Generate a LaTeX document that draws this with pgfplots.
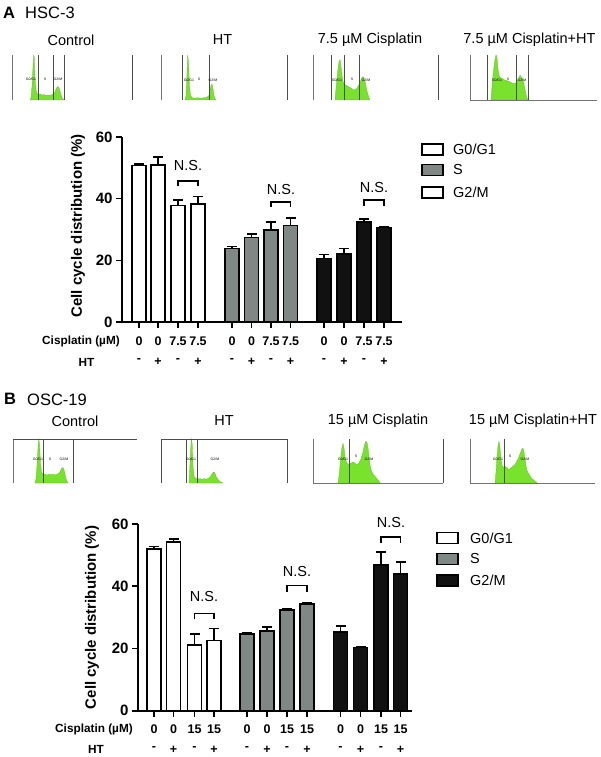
\documentclass[border=0pt]{standalone}
\usepackage{fontspec}
\setmainfont{Liberation Sans}
\usepackage{pgfplots}
\pgfplotsset{compat=1.18}
\definecolor{hgreen}{RGB}{120,226,45}
\definecolor{sgray}{RGB}{128,136,134}
\definecolor{gm}{RGB}{17,17,17}
\newcommand{\fs}[1]{\fontsize{#1}{#1}\selectfont}
\pgfplotsset{
 hist/.style={scale only axis, anchor=south west, ymin=0, ymax=1, axis lines=none, clip=false},
 histfill/.style={fill=hgreen, draw=hgreen!85!black, line width=0.3pt},
 main/.style={scale only axis, anchor=south west, ymin=0, ymax=60,
   axis x line*=bottom, axis y line*=left, axis line style={line width=1.6pt,-},
   ytick={0,20,40,60}, yticklabels={0,20,40,60},
   yticklabel style={font=\fs{15}\bfseries},
   xticklabels={}, tick style={line width=1.6pt, black}, major tick length=6pt,
   tick align=outside, clip=false, ylabel={Cell cycle distribution (\%)}},
 bars/.style={ybar, bar width=14pt, bar shift=0pt, draw=black, line width=1.6pt},
 errline/.style={ycomb, black, line width=1.6pt, mark=none, forget plot},
 errcap/.style={only marks, mark=-, mark size=5pt, black, mark options={line width=1.6pt, solid}, forget plot},
}
\tikzset{gate/.style={line width=0.9pt, black!70}, hax/.style={line width=0.5pt, black!55},
 brk/.style={line width=1.6pt}, tl/.style={font=\fs{3.5}, inner sep=0pt},
 num/.style={font=\fs{12.5}\bfseries, inner sep=0pt}, ns/.style={font=\fs{14.5}},
 ttl/.style={font=\fs{14.5}}}
\begin{document}
\begin{tikzpicture}
\useasboundingbox (0,0) rectangle (600pt,-757pt);
% ---------- Panel A headings
\node[font=\fs{16.5}\bfseries, anchor=center] at (9pt,-13pt) {A};
\node[font=\fs{16.5}, anchor=west, inner sep=0pt] at (25pt,-13pt) {HSC-3};
\node[ttl] at (71pt,-40pt) {Control};
\node[ttl] at (222.5pt,-40pt) {HT};
\node[ttl] at (370pt,-40pt) {7.5 µM Cisplatin};
\node[ttl, anchor=east] at (599pt,-40pt) {7.5 µM Cisplatin+HT};
% ---------- A histograms
\begin{axis}[hist, at={(12pt,-100pt)}, width=120pt, height=45pt, xmin=12, xmax=132]
\addplot[histfill] coordinates {(30,0)(31,0.05)(32,0.3)(33,0.75)(33.7,1.0)(34.3,0.95)(35,0.5)(36,0.22)(37,0.15)(38,0.12)(40,0.13)(42,0.11)(44,0.12)(46,0.1)(48,0.11)(50,0.1)(52,0.12)(54,0.14)(55,0.18)(56,0.24)(57,0.28)(58,0.3)(59,0.27)(60,0.2)(61,0.12)(62,0.05)(63,0.02)(64,0)} \closedcycle;
\draw[hax] (axis cs:12,0) -- (axis cs:12,1);
\draw[gate] (axis cs:38,0) -- (axis cs:38,1);
\draw[gate] (axis cs:53,0) -- (axis cs:53,1);
\draw[gate] (axis cs:64,0) -- (axis cs:64,1);
\draw[gate] (axis cs:132,0) -- (axis cs:132,1);
\node[tl] at (axis cs:31,0.47) {G0/G1};
\node[tl] at (axis cs:45,0.47) {S};
\node[tl] at (axis cs:58,0.47) {G2/M};
\end{axis}
\begin{axis}[hist, at={(161pt,-100pt)}, width=126pt, height=45pt, xmin=161, xmax=287]
\addplot[histfill] coordinates {(185,0)(186,0.1)(187,0.6)(187.7,1.0)(188.5,0.85)(189.5,0.3)(190.5,0.1)(192,0.05)(195,0.04)(198,0.05)(201,0.04)(204,0.05)(207,0.06)(209,0.1)(210,0.22)(211,0.33)(212,0.35)(213,0.25)(214,0.1)(215,0.03)(216,0)} \closedcycle;
\draw[hax] (axis cs:161,0) -- (axis cs:161,1);
\draw[gate] (axis cs:182,0) -- (axis cs:182,1);
\draw[gate] (axis cs:209,0) -- (axis cs:209,1);
\draw[gate] (axis cs:287,0) -- (axis cs:287,1);
\node[tl] at (axis cs:189,0.45) {G0/G1};
\node[tl] at (axis cs:199,0.45) {S};
\node[tl] at (axis cs:213,0.45) {G2/M};
\end{axis}
\begin{axis}[hist, at={(313pt,-100pt)}, width=125pt, height=45pt, xmin=313, xmax=438]
\addplot[histfill] coordinates {(335,0)(336,0.25)(337,0.5)(338,0.7)(339,0.85)(340,0.9)(341,0.75)(342,0.55)(343,0.42)(344,0.35)(346,0.33)(348,0.3)(350,0.28)(352,0.25)(354,0.22)(356,0.24)(358,0.3)(360,0.38)(361,0.45)(362,0.5)(363,0.52)(364,0.48)(365,0.42)(366,0.3)(367,0.2)(368,0.12)(369,0.05)(370,0)} \closedcycle;
\draw[hax] (axis cs:313,0) -- (axis cs:313,1);
\draw[gate] (axis cs:331,0) -- (axis cs:331,1);
\draw[gate] (axis cs:344,0) -- (axis cs:344,1);
\draw[gate] (axis cs:359,0) -- (axis cs:359,1);
\draw[gate] (axis cs:438,0) -- (axis cs:438,1);
\node[tl] at (axis cs:337,0.45) {G0/G1};
\node[tl] at (axis cs:352,0.45) {S};
\node[tl] at (axis cs:366,0.45) {G2/M};
\end{axis}
\begin{axis}[hist, at={(470pt,-100pt)}, width=127pt, height=45pt, xmin=470, xmax=597]
\addplot[histfill] coordinates {(491,0)(492,0.3)(493,0.55)(494,0.75)(495,0.9)(496,1.0)(497,0.95)(498,0.7)(499,0.55)(500,0.5)(502,0.48)(504,0.45)(506,0.44)(508,0.42)(510,0.4)(512,0.38)(514,0.36)(516,0.38)(518,0.45)(519,0.5)(520,0.55)(521,0.52)(522,0.5)(523,0.45)(524,0.35)(525,0.25)(526,0.12)(527,0.05)(528,0)} \closedcycle;
\draw[hax] (axis cs:470,0) -- (axis cs:470,1);
\draw[hax] (axis cs:470,0) -- (axis cs:597,0);
\draw[gate] (axis cs:487,0) -- (axis cs:487,1);
\draw[gate] (axis cs:516,0) -- (axis cs:516,1);
\draw[gate] (axis cs:528,0) -- (axis cs:528,1);
\node[tl] at (axis cs:497,0.45) {G0/G1};
\node[tl] at (axis cs:508,0.45) {S};
\node[tl] at (axis cs:522,0.45) {G2/M};
\end{axis}
% ---------- A main chart
\begin{axis}[main, at={(122pt,-322pt)}, width=280pt, height=185pt, xmin=122, xmax=402,
  xtick={139,158,178,198,232,251.5,271,290.5,324,344,364,384},
  ylabel style={font=\fs{15}\bfseries, at={(axis description cs:-0.157,0.52)}, anchor=center}]
% error bar tops (mean + SD)
\addplot[errline] coordinates {(139,51.3) (158,53.5) (178,39.6) (198,40.7) (232,24.5) (251.5,28.5) (271,32.4) (290.5,33.8) (324,21.9) (344,23.8) (364,33.5) (384,31.0)};
\addplot[fill=white, bars] coordinates {(139,50.7) (158,50.9) (178,37.8) (198,38.3)};
\addplot[fill=sgray, bars] coordinates {(232,23.8) (251.5,27.4) (271,29.8) (290.5,31.3)};
\addplot[fill=gm, bars] coordinates {(324,20.6) (344,22.1) (364,32.5) (384,30.6)};
\addplot[errcap] coordinates {(139,51.3) (158,53.5) (178,39.6) (198,40.7) (232,24.5) (251.5,28.5) (271,32.4) (290.5,33.8) (324,21.9) (344,23.8) (364,33.5) (384,31.0)};
\draw[brk] (axis cs:178,44) -- (axis cs:178,45.7) -- (axis cs:198,45.7) -- (axis cs:198,44);
\node[ns] at (axis cs:188,50.8) {N.S.};
\draw[brk] (axis cs:271,37.2) -- (axis cs:271,39) -- (axis cs:290.5,39) -- (axis cs:290.5,37.2);
\node[ns] at (axis cs:281,43) {N.S.};
\draw[brk] (axis cs:364,37.7) -- (axis cs:364,39.5) -- (axis cs:384,39.5) -- (axis cs:384,37.7);
\node[ns] at (axis cs:374,43.5) {N.S.};
\node[font=\fs{11.8}\bfseries, anchor=east, inner sep=0pt] at (axis cs:120,-6.16) {Cisplatin (µM)};
\node[num] at (axis cs:139,-6.16) {0};
\node[num] at (axis cs:158,-6.16) {0};
\node[num] at (axis cs:178,-6.16) {7.5};
\node[num] at (axis cs:198,-6.16) {7.5};
\node[num] at (axis cs:232,-6.16) {0};
\node[num] at (axis cs:251.5,-6.16) {0};
\node[num] at (axis cs:271,-6.16) {7.5};
\node[num] at (axis cs:290.5,-6.16) {7.5};
\node[num] at (axis cs:324,-6.16) {0};
\node[num] at (axis cs:344,-6.16) {0};
\node[num] at (axis cs:364,-6.16) {7.5};
\node[num] at (axis cs:384,-6.16) {7.5};
\node[font=\fs{11.8}\bfseries, inner sep=0pt] at (axis cs:86.5,-12.97) {HT};
\node[num] at (axis cs:139,-12.6) {-};
\node[num] at (axis cs:158,-12.97) {+};
\node[num] at (axis cs:178,-12.6) {-};
\node[num] at (axis cs:198,-12.97) {+};
\node[num] at (axis cs:232,-12.6) {-};
\node[num] at (axis cs:251.5,-12.97) {+};
\node[num] at (axis cs:271,-12.6) {-};
\node[num] at (axis cs:290.5,-12.97) {+};
\node[num] at (axis cs:324,-12.6) {-};
\node[num] at (axis cs:344,-12.97) {+};
\node[num] at (axis cs:364,-12.6) {-};
\node[num] at (axis cs:384,-12.97) {+};
\end{axis}
% legend A
\draw[line width=1.5pt, fill=white] (422pt,-144pt) rectangle (443pt,-155pt);
\draw[line width=1.5pt, fill=sgray] (422pt,-164.5pt) rectangle (443pt,-175.5pt);
\draw[line width=1.5pt, fill=white] (422pt,-187pt) rectangle (443pt,-198pt);
\node[font=\fs{14.5}, anchor=west, inner sep=0pt] at (453pt,-149.5pt) {G0/G1};
\node[font=\fs{14.5}, anchor=west, inner sep=0pt] at (453pt,-170pt) {S};
\node[font=\fs{14.5}, anchor=west, inner sep=0pt] at (453pt,-192.5pt) {G2/M};
% ---------- Panel B headings
\node[font=\fs{16.5}\bfseries, anchor=center] at (10pt,-399pt) {B};
\node[font=\fs{16.5}, anchor=west, inner sep=0pt] at (27pt,-400pt) {OSC-19};
\node[ttl] at (75pt,-421pt) {Control};
\node[ttl] at (224pt,-421pt) {HT};
\node[ttl] at (378pt,-421pt) {15 µM Cisplatin};
\node[ttl] at (533pt,-421pt) {15 µM Cisplatin+HT};
% ---------- B histograms
\begin{axis}[hist, at={(13pt,-483pt)}, width=124pt, height=44pt, xmin=13, xmax=137]
\addplot[histfill] coordinates {(35,0)(36,0.1)(37,0.4)(38,0.8)(38.7,1.0)(39.5,0.9)(40.5,0.45)(41.5,0.25)(43,0.2)(45,0.2)(47,0.18)(49,0.2)(51,0.19)(53,0.2)(55,0.18)(57,0.2)(59,0.22)(60,0.26)(61,0.3)(62,0.34)(63,0.35)(64,0.3)(65,0.2)(66,0.1)(67,0.04)(68,0)} \closedcycle;
\draw[hax] (axis cs:13,0) -- (axis cs:13,1);
\draw[gate] (axis cs:13,1) -- (axis cs:137,1);
\draw[gate] (axis cs:43,0) -- (axis cs:43,1);
\draw[gate] (axis cs:73,0) -- (axis cs:73,1);
\node[tl] at (axis cs:38,0.55) {G0/G1};
\node[tl] at (axis cs:50,0.55) {S};
\node[tl] at (axis cs:64,0.55) {G2/M};
\end{axis}
\begin{axis}[hist, at={(161pt,-483pt)}, width=126pt, height=44pt, xmin=161, xmax=287]
\addplot[histfill] coordinates {(189,0)(189.5,0.2)(190.5,0.7)(191.3,1.0)(192.2,0.9)(193,0.4)(194,0.15)(196,0.1)(198,0.09)(200,0.1)(202,0.08)(204,0.1)(206,0.09)(208,0.1)(210,0.13)(211,0.17)(212,0.2)(213,0.24)(214,0.25)(215,0.22)(216,0.15)(218,0.08)(220,0.03)(223,0)} \closedcycle;
\draw[gate] (axis cs:161,0) -- (axis cs:161,1) -- (axis cs:287,1) -- (axis cs:287,0);
\draw[gate] (axis cs:186,0) -- (axis cs:186,1);
\draw[gate] (axis cs:197,0) -- (axis cs:197,1);
\node[tl] at (axis cs:191,0.55) {G0/G1};
\node[tl] at (axis cs:215,0.55) {G2/M};
\end{axis}
\begin{axis}[hist, at={(313pt,-483pt)}, width=130pt, height=44pt, xmin=313, xmax=443]
\addplot[histfill] coordinates {(338,0)(339,0.15)(340,0.4)(341,0.65)(342,0.82)(343,0.9)(344,0.8)(345,0.6)(346,0.5)(347,0.45)(349,0.42)(351,0.45)(353,0.48)(355,0.45)(357,0.42)(359,0.45)(361,0.55)(363,0.7)(364,0.82)(365,0.9)(366,0.95)(367,0.92)(368,0.8)(369,0.6)(370,0.42)(371,0.3)(373,0.2)(375,0.15)(377,0.1)(379,0.04)(380,0)} \closedcycle;
\draw[hax] (axis cs:313,0) -- (axis cs:313,1);
\draw[hax] (axis cs:313,0) -- (axis cs:443,0);
\draw[gate] (axis cs:443,0) -- (axis cs:443,1);
\draw[gate] (axis cs:349,0) -- (axis cs:349,1);
\node[tl] at (axis cs:343,0.55) {G0/G1};
\node[tl] at (axis cs:356,0.6) {S};
\node[tl] at (axis cs:369,0.55) {G2/M};
\end{axis}
\begin{axis}[hist, at={(470pt,-483pt)}, width=125pt, height=44pt, xmin=470, xmax=595]
\addplot[histfill] coordinates {(495,0)(496,0.25)(497,0.6)(498,0.85)(499,0.95)(500,0.8)(501,0.55)(502,0.4)(503,0.35)(505,0.38)(507,0.35)(509,0.3)(511,0.35)(513,0.38)(515,0.42)(517,0.5)(519,0.6)(521,0.72)(522,0.78)(523,0.79)(524,0.7)(525,0.55)(526,0.4)(527,0.28)(529,0.2)(531,0.12)(533,0.08)(535,0.04)(537,0)} \closedcycle;
\draw[hax] (axis cs:470,0) -- (axis cs:470,1);
\draw[hax] (axis cs:470,0) -- (axis cs:595,0);
\draw[gate] (axis cs:504,0) -- (axis cs:504,1);
\node[tl] at (axis cs:498,0.55) {G0/G1};
\node[tl] at (axis cs:510,0.6) {S};
\node[tl] at (axis cs:525,0.55) {G2/M};
\end{axis}
% ---------- B main chart
\begin{axis}[main, at={(138pt,-710.7pt)}, width=274pt, height=186.7pt, xmin=138, xmax=412,
  xtick={154,173.5,194.5,214,247,267,287,307,340.5,360.5,381,400.5},
  ylabel style={font=\fs{15}\bfseries, at={(axis description cs:-0.168,0.5)}, anchor=center}]
\addplot[errline] coordinates {(154,52.8) (173.5,55.2) (194.5,24.7) (214,26.4) (247,24.9) (267,26.9) (287,32.8) (307,34.8) (340.5,27.3) (360.5,20.6) (381,51.0) (400.5,47.8)};
\addplot[fill=white, bars] coordinates {(154,52.0) (173.5,54.3) (194.5,21.2) (214,22.5)};
\addplot[fill=sgray, bars] coordinates {(247,24.6) (267,25.7) (287,32.4) (307,34.2)};
\addplot[fill=gm, bars] coordinates {(340.5,25.3) (360.5,20.3) (381,46.9) (400.5,43.9)};
\addplot[errcap] coordinates {(154,52.8) (173.5,55.2) (194.5,24.7) (214,26.4) (247,24.9) (267,26.9) (287,32.8) (307,34.8) (340.5,27.3) (360.5,20.6) (381,51.0) (400.5,47.8)};
\draw[brk] (axis cs:194.5,29.4) -- (axis cs:194.5,31.3) -- (axis cs:214,31.3) -- (axis cs:214,29.4);
\node[ns] at (axis cs:204,36.6) {N.S.};
\draw[brk] (axis cs:287,38.2) -- (axis cs:287,40.2) -- (axis cs:307,40.2) -- (axis cs:307,38.2);
\node[ns] at (axis cs:297,44.7) {N.S.};
\draw[brk] (axis cs:381,54) -- (axis cs:381,55.9) -- (axis cs:400.5,55.9) -- (axis cs:400.5,54);
\node[ns] at (axis cs:391,60.4) {N.S.};
\node[font=\fs{11.8}\bfseries, anchor=east, inner sep=0pt] at (axis cs:133,-5.9) {Cisplatin (µM)};
\node[num] at (axis cs:154,-5.9) {0};
\node[num] at (axis cs:173.5,-5.9) {0};
\node[num] at (axis cs:194.5,-5.9) {15};
\node[num] at (axis cs:214,-5.9) {15};
\node[num] at (axis cs:247,-5.9) {0};
\node[num] at (axis cs:267,-5.9) {0};
\node[num] at (axis cs:287,-5.9) {15};
\node[num] at (axis cs:307,-5.9) {15};
\node[num] at (axis cs:340.5,-5.9) {0};
\node[num] at (axis cs:360.5,-5.9) {0};
\node[num] at (axis cs:381,-5.9) {15};
\node[num] at (axis cs:400.5,-5.9) {15};
\node[font=\fs{11.8}\bfseries, inner sep=0pt] at (axis cs:96,-12.6) {HT};
\node[num] at (axis cs:154,-12.2) {-};
\node[num] at (axis cs:173.5,-12.6) {+};
\node[num] at (axis cs:194.5,-12.2) {-};
\node[num] at (axis cs:214,-12.6) {+};
\node[num] at (axis cs:247,-12.2) {-};
\node[num] at (axis cs:267,-12.6) {+};
\node[num] at (axis cs:287,-12.2) {-};
\node[num] at (axis cs:307,-12.6) {+};
\node[num] at (axis cs:340.5,-12.2) {-};
\node[num] at (axis cs:360.5,-12.6) {+};
\node[num] at (axis cs:381,-12.2) {-};
\node[num] at (axis cs:400.5,-12.6) {+};
\end{axis}
% legend B
\draw[line width=1.5pt, fill=white] (437pt,-532.5pt) rectangle (458pt,-543.5pt);
\draw[line width=1.5pt, fill=sgray] (437pt,-553.5pt) rectangle (458pt,-564.5pt);
\draw[line width=1.5pt, fill=gm] (437pt,-575pt) rectangle (458pt,-586pt);
\node[font=\fs{14.5}, anchor=west, inner sep=0pt] at (470pt,-538pt) {G0/G1};
\node[font=\fs{14.5}, anchor=west, inner sep=0pt] at (470pt,-559pt) {S};
\node[font=\fs{14.5}, anchor=west, inner sep=0pt] at (470pt,-580.5pt) {G2/M};
\end{tikzpicture}
\end{document}
